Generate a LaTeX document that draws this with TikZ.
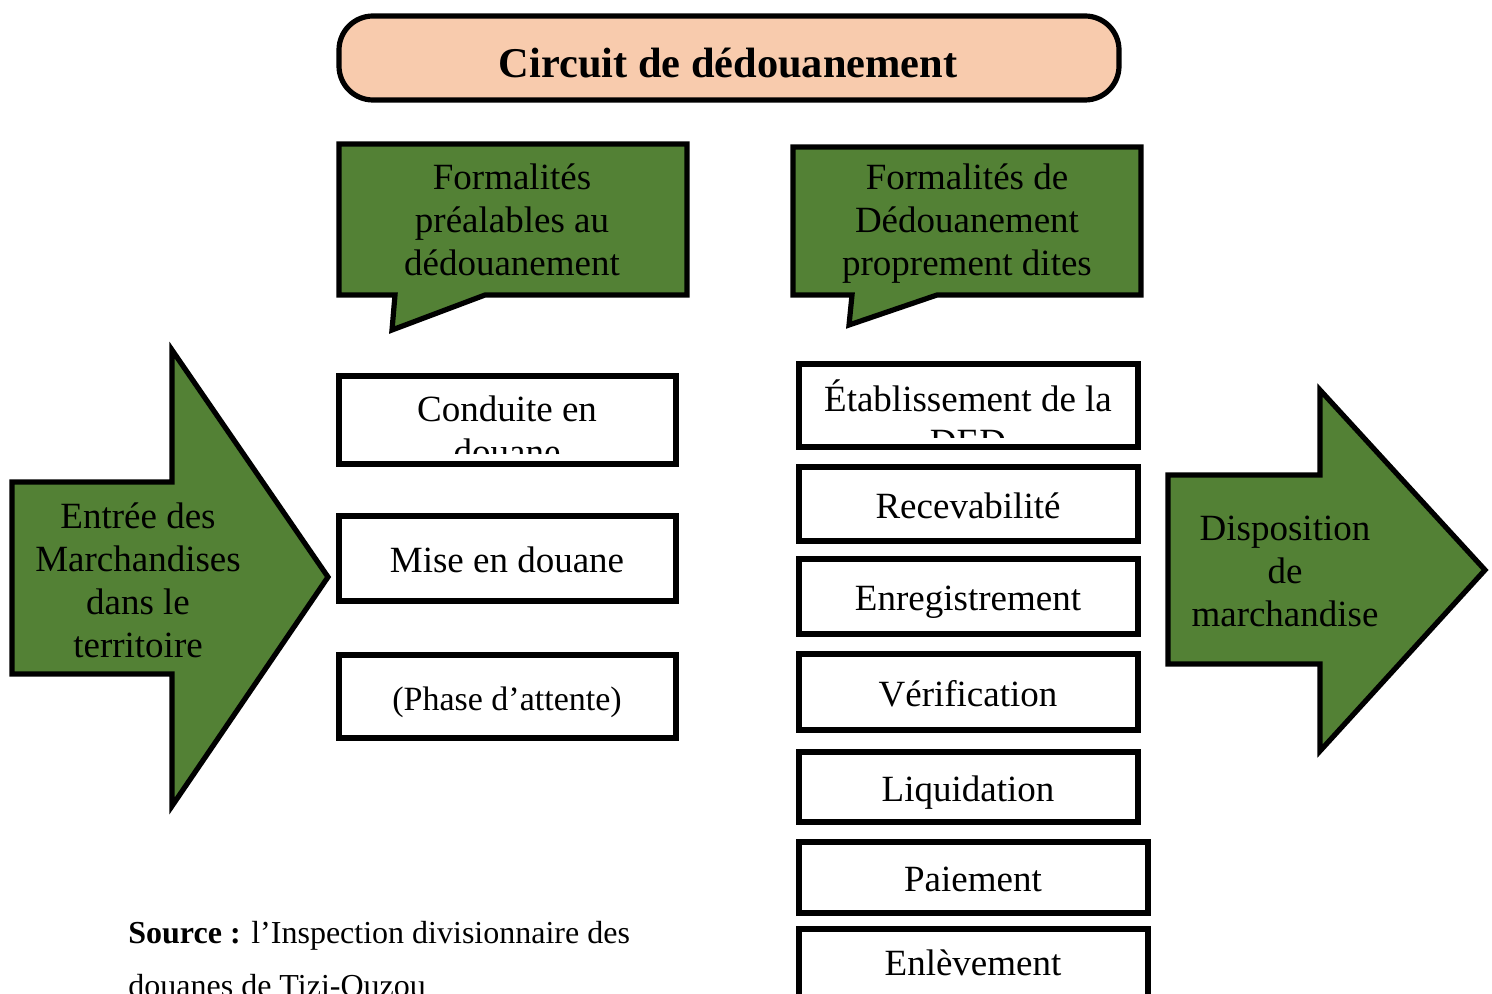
\documentclass[tikz,border=0pt]{standalone}
\usepackage{fontspec}
\setmainfont{Liberation Serif}
\definecolor{dgreen}{HTML}{538135}
\definecolor{peach}{HTML}{F8CBAD}
\begin{document}
\begin{tikzpicture}[x=0.5pt,y=-0.5pt, line join=miter,
  outl/.style={draw=black,line width=2.6pt},
  txt/.style={font=\fontsize{18.5}{21.5}\selectfont, align=center, inner sep=0pt},
  smalltxt/.style={font=\fontsize{17}{21}\selectfont, align=center, inner sep=0pt}]
\useasboundingbox (0,0) rectangle (1492,994);
\clip (0,0) rectangle (1492,994);

% Title
\draw[outl, fill=peach, rounded corners=17pt] (339,16) rectangle (1119,100);
\node[font=\fontsize{21.2}{25}\selectfont\bfseries, inner sep=0pt] (title) at (728,63) {Circuit de dédouanement};

% Callouts
\draw[outl, fill=dgreen] (339,144) -- (687,144) -- (687,295) -- (485,295) -- (392,330) -- (395,295) -- (339,295) -- cycle;
\node[txt] (call1) at (512,220) {Formalités\\préalables au\\dédouanement};
\draw[outl, fill=dgreen] (793,147) -- (1141,147) -- (1141,295) -- (937,295) -- (849,325) -- (852,295) -- (793,295) -- cycle;
\node[txt] (call2) at (967,224) {Formalités de\\Dédouanement\\proprement dites};

% Left arrow
\draw[outl, fill=dgreen] (12,482) -- (172,482) -- (172,350) -- (328,577) -- (172,806) -- (172,674) -- (12,674) -- cycle;
\node[txt] (entree) at (138,580) {Entrée des\\Marchandises\\dans le\\territoire};

% Right arrow
\draw[outl, fill=dgreen] (1168,475) -- (1320,475) -- (1320,390) -- (1485,570) -- (1320,751) -- (1320,664) -- (1168,664) -- cycle;
\node[txt] (dispo) at (1285,571) {Disposition\\de\\marchandise};

% Left boxes
\draw[outl, fill=white] (339,376) rectangle (676,464);
\begin{scope}
  \clip (341,378) rectangle (674,453);
  \node[txt] (conduite) at (507,430.5) {Conduite en\\douane};
\end{scope}
\draw[outl, fill=white] (339,516) rectangle (676,601);
\node[txt] (mise) at (507,560) {Mise en douane};
\draw[outl, fill=white] (339,655) rectangle (676,738);
\node[smalltxt] (phase) at (507,702) {(Phase d’attente)};

% Right boxes
\draw[outl, fill=white] (799,364) rectangle (1138,447);
\begin{scope}
  \clip (801,366) rectangle (1136,437);
  \node[txt] (etab) at (968,417) {Établissement de la\\DED};
\end{scope}
\draw[outl, fill=white] (799,467) rectangle (1138,541);
\node[txt] (receva) at (968,506) {Recevabilité};
\draw[outl, fill=white] (799,559) rectangle (1138,634);
\node[txt] (enreg) at (968,602) {Enregistrement};
\draw[outl, fill=white] (799,654) rectangle (1138,730);
\node[txt] (verif) at (968,694) {Vérification};
\draw[outl, fill=white] (799,752) rectangle (1138,822);
\node[txt] (liquid) at (968,793) {Liquidation};
\draw[outl, fill=white] (799,842) rectangle (1148,913);
\node[txt] (paie) at (973,879) {Paiement};
\draw[outl, fill=white] (799,929) rectangle (1148,1010);
\node[txt] (enlev) at (973,963) {Enlèvement};

% Source
\node[font=\fontsize{16}{26.5}\selectfont, align=left, inner sep=0pt, anchor=base west] (source) at (128,996)
  {\textbf{Source :} l’Inspection divisionnaire des\\douanes de Tizi-Ouzou};
\end{tikzpicture}
\end{document}
